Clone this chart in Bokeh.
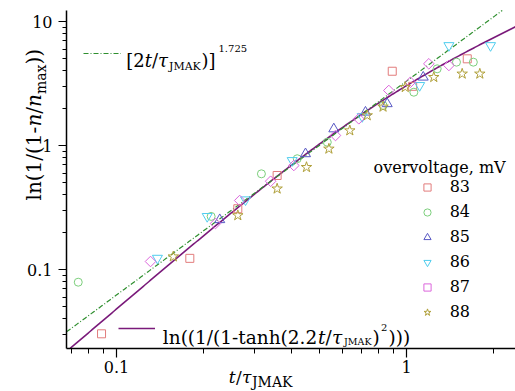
import numpy as np
from bokeh.plotting import figure
from bokeh.models import (Range1d, FixedTicker, CustomJSTickFormatter, Label,
                          Legend, LegendItem)
from bokeh.embed import file_html
from bokeh.resources import INLINE

# ---------------- data ----------------
t83 = [0.0888, 0.179, 0.262, 0.358, 0.893, 1.05, 1.62]
v83 = [0.0303, 0.123, 0.309, 0.573, 3.97, 3.0, 5.0]

t84 = [0.0738, 0.212, 0.316, 0.42, 0.533, 0.831, 1.06, 1.276, 1.487, 1.70]
v84 = [0.079, 0.268, 0.591, 0.782, 1.063, 2.10, 2.69, 4.155, 4.70, 4.70]

t85 = [0.227, 0.4485, 0.5615, 0.722, 0.858, 1.142]
v85 = [0.252, 0.857, 1.36, 1.856, 2.17, 3.555]

t86 = [0.1384, 0.2055, 0.2786, 0.4035, 0.7034, 1.11, 1.40, 1.949]
v86 = [0.1234, 0.268, 0.365, 0.757, 1.713, 3.05, 6.40, 6.40]

t87 = [0.131, 0.2195, 0.266, 0.34, 0.4087, 0.569, 0.6847, 0.869, 1.032, 1.194, 1.40]
v87 = [0.116, 0.235, 0.36, 0.515, 0.69, 1.204, 1.642, 2.777, 3.24, 4.56, 4.42]

t88 = [0.157, 0.262, 0.358, 0.452, 0.54, 0.6375, 0.732, 0.83, 0.99, 1.242, 1.556, 1.79]
v88 = [0.127, 0.273, 0.448, 0.668, 0.94, 1.32, 1.746, 2.05, 2.95, 3.555, 3.785, 3.785]

series_labels = ["83", "84", "85", "86", "87", "88"]
legend_title = "overvoltage, mV"

# model curves (parameters from the legend formulas)
jmak_factor = 2.0
jmak_exp = 1.725
tanh_factor = 2.2

x_major = [0.1, 1]
x_minor = [0.07, 0.08, 0.09, 0.2, 0.3, 0.4, 0.5, 0.6, 0.7, 0.8, 0.9, 2]
y_major = [0.1, 1, 10]
y_minor = [0.03, 0.04, 0.05, 0.06, 0.07, 0.08, 0.09,
           0.2, 0.3, 0.4, 0.5, 0.6, 0.7, 0.8, 0.9,
           2, 3, 4, 5, 6, 7, 8, 9]

# ---------------- layout (page pixels) ----------------
W, H = 515, 391
AX_L, AX_R, AX_T, AX_B = 66, 515, 10, 348      # extent of the drawn axes
X_TENTH_PX, X_DECADE_PX = 116, 290             # page x of t = 0.1, pixels per decade
Y_ONE_PX, Y_DECADE_PX = 145, 124               # page y of value 1, pixels per decade


def dx(px):
    return 10 ** (-1 + (px - X_TENTH_PX) / X_DECADE_PX)


def dy(py):
    return 10 ** ((Y_ONE_PX - py) / Y_DECADE_PX)


X_FULL = (dx(0), dx(W))
Y_FULL = (dy(H), dy(0))
X_AX = (dx(AX_L), dx(AX_R))
Y_AX = (dy(AX_B), dy(AX_T))

FONT = "DejaVu Serif"

p = figure(width=W, height=H, x_axis_type="log", y_axis_type="log",
           x_range=Range1d(*X_FULL), y_range=Range1d(*Y_FULL),
           output_backend="svg", toolbar_location=None,
           min_border_left=0, min_border_right=0, min_border_top=0,
           min_border_bottom=0)
p.xgrid.visible = False
p.ygrid.visible = False
p.outline_line_color = None
p.background_fill_color = "white"
p.border_fill_color = "white"

fmt = CustomJSTickFormatter(code="return (Math.round(tick*1000)/1000).toString();")
for ax, maj, mnr, tout, mout, stand, bnds, loc in (
        (p.xaxis[0], x_major, x_minor, 9, 5, 3, X_AX, Y_AX[0]),
        (p.yaxis[0], y_major, y_minor, 8, 4, 6, Y_AX, X_AX[0])):
    ax.ticker = FixedTicker(ticks=maj, minor_ticks=mnr)
    ax.formatter = fmt
    ax.bounds = bnds
    ax.fixed_location = loc
    ax.axis_line_color = "black"
    ax.axis_line_width = 1.5
    ax.major_tick_line_color = "black"
    ax.minor_tick_line_color = "black"
    ax.major_tick_line_width = 1.2
    ax.minor_tick_line_width = 1.0
    ax.major_tick_in = 0
    ax.minor_tick_in = 0
    ax.major_tick_out = tout
    ax.minor_tick_out = mout
    ax.major_label_standoff = stand
    ax.major_label_text_font = FONT
    ax.major_label_text_font_size = "16px"
    ax.major_label_text_color = "black"
    ax.axis_label = None

# curves, kept inside the axes box
t_jmak_hi = min(X_AX[1], Y_AX[1] ** (1 / jmak_exp) / jmak_factor)
tt_j = np.logspace(np.log10(X_AX[0]), np.log10(t_jmak_hi), 300)
y_jmak = (jmak_factor * tt_j) ** jmak_exp

t_tanh_lo = max(X_AX[0], np.arccosh(np.exp(Y_AX[0] / 2)) / tanh_factor)
tt_t = np.logspace(np.log10(t_tanh_lo), np.log10(X_AX[1]), 300)
y_tanh = np.log(1.0 / (1.0 - np.tanh(tanh_factor * tt_t) ** 2))

r_tanh = p.line(tt_t, y_tanh, line_color="#7a1a7a", line_width=1.6)
r_jmak = p.line(tt_j, y_jmak, line_color="#2f8f2f", line_width=1.2, line_dash="5 2 1 2")

# markers
specs = [
    (t83, v83, "square", 8, 0.0, "#e27c7c"),
    (t84, v84, "circle", 8, 0.0, "#7ccf7c"),
    (t85, v85, "triangle", 10, 0.0, "#5858c4"),
    (t86, v86, "inverted_triangle", 10, 0.0, "#4fcdee"),
    (t87, v87, "square", 7.5, np.pi / 4, "#dc66dc"),
    (t88, v88, "star", 11, 0.0, "#b0a03a"),
]
renderers = []
for tx, vy, mk, sz, ang, col in specs:
    r = p.scatter(tx, vy, marker=mk, size=sz, angle=ang, fill_color=None,
                  line_color=col, line_width=1.0)
    renderers.append(r)


# page pixel -> frame screen units (frame == whole canvas)
def sx(px):
    return px


def sy(py):
    return H - py


# marker legend
leg = Legend(items=[LegendItem(label=lab, renderers=[r]) for lab, r in zip(series_labels, renderers)],
             location=(sx(417.7), sy(322.7)), glyph_width=18, glyph_height=22, label_height=22,
             spacing=3, label_standoff=14, padding=0, margin=0,
             label_text_font=FONT, label_text_font_size="16px", label_text_color="black",
             border_line_alpha=0, background_fill_alpha=0)
p.add_layout(leg)

# line legends (samples only; formula text as rich labels)
leg_j = Legend(items=[LegendItem(label=" ", renderers=[r_jmak])], location=(sx(83), sy(62.7)),
               glyph_width=38, glyph_height=20, label_width=0, label_standoff=0,
               padding=0, margin=0, label_text_font_size="2px",
               border_line_alpha=0, background_fill_alpha=0)
leg_t = Legend(items=[LegendItem(label=" ", renderers=[r_tanh])], location=(sx(118.3), sy(337.7)),
               glyph_width=37, glyph_height=20, label_width=0, label_standoff=0,
               padding=0, margin=0, label_text_font_size="2px",
               border_line_alpha=0, background_fill_alpha=0)
p.add_layout(leg_j)
p.add_layout(leg_t)


def put(text, px, py, size, italic=False, angle=0.0):
    p.add_layout(Label(x=sx(px), y=sy(py), x_units="screen", y_units="screen",
                       text=text, angle=angle, text_font=FONT,
                       text_font_size=f"{size}px",
                       text_font_style="italic" if italic else "normal",
                       text_color="black", text_align="left",
                       text_baseline="alphabetic"))


# legend title
put(legend_title, 373, 167, 16)

# top formula: [2t/tau_JMAK)]^1.725
put("[2", 125.7, 59.5, 18)
put("t", 144.2, 59.5, 18, True)
put("/", 151.4, 59.5, 18)
put("τ", 157.5, 59.5, 18, True)
put("JMAK", 168.5, 66, 11)
put(")]", 201, 59.5, 18)
put("1.725", 218, 48.3, 10)

# bottom formula: ln((1/(1-tanh(2.2t/tau_JMAK)^2)))
put("ln((1/(1-tanh(2.2", 162.3, 336.5, 18.5)
put("t", 317.5, 336.5, 18.5, True)
put("/", 325, 336.5, 18.5)
put("τ", 331.5, 336.5, 18.5, True)
put("JMAK", 343.5, 340.7, 9.5)
put(")", 372, 336.5, 18.5)
put("2", 380.5, 326.7, 10)
put(")))", 388, 336.5, 18.5)

# x axis label: t/tau_JMAK
put("t", 228.3, 376.7, 17, True)
put("/", 235.5, 376.7, 17)
put("τ", 241.5, 376.7, 17, True)
put("JMAK", 251.5, 381, 14)

# y axis label (rotated): ln(1/(1-n/n_max))
A = np.pi / 2
put("ln(1/(1-", 33, 200, 20, angle=A)
put("n", 33, 126.1, 20, True, angle=A)
put("/", 33, 113.2, 20, angle=A)
put("n", 33, 106.5, 20, True, angle=A)
put("max", 40, 93.6, 14, angle=A)
put("))", 33, 64.1, 20, angle=A)

open("out.html", "w").write(file_html(p, INLINE))
